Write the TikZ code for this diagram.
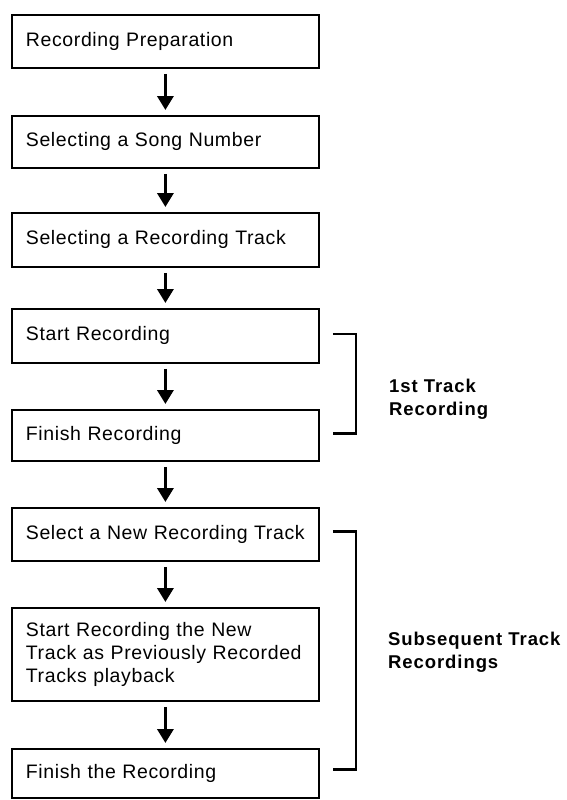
\documentclass[tikz,border=0pt]{standalone}
\usepackage{fontspec}
\setmainfont{Liberation Sans}
\newfontfamily\boxfont{Liberation Sans}[LetterSpace=3.2]
\newfontfamily\labfont{Liberation Sans}[LetterSpace=5]
\usetikzlibrary{arrows.meta}
\begin{document}
\begin{tikzpicture}[x=1pt,y=-1pt,
  stepbox/.style={draw=black, line width=1.8pt, anchor=north west,
    minimum width=307pt, text width=279pt, inner xsep=14pt, inner ysep=0pt,
    align=left, font=\boxfont\fontsize{19.5}{23}\selectfont},
  flow/.style={line width=3.4pt, -{Triangle[width=16pt,length=14pt]},
    shorten <=5pt, shorten >=5pt},
  brk/.style={line width=2.6pt},
  lab/.style={anchor=west, align=left, inner sep=0pt,
    font=\labfont\bfseries\fontsize{18.5}{23}\selectfont}]
\useasboundingbox[fill=white] (0,0) rectangle (567,800);

\node[stepbox, minimum height=53pt] (b1) at (11,14) {Recording Preparation};
\node[stepbox, minimum height=52pt] (b2) at (11,115) {Selecting a Song Number};
\node[stepbox, minimum height=54pt] (b3) at (11,212) {Selecting a Recording Track};
\node[stepbox, minimum height=54pt] (b4) at (11,308) {Start Recording};
\node[stepbox, minimum height=51pt] (b5) at (11,409) {Finish Recording};
\node[stepbox, minimum height=53pt] (b6) at (11,507) {\mbox{Select a New Recording Track}};
\node[stepbox, minimum height=93pt] (b7) at (11,607) {Start Recording the New\\Track as Previously Recorded\\Tracks playback};
\node[stepbox, minimum height=49pt] (b8) at (11,748) {Finish the Recording};

\draw[flow] (b1) -- (b2);
\draw[flow] (b2) -- (b3);
\draw[flow] (b3) -- (b4);
\draw[flow] (b4) -- (b5);
\draw[flow] (b5) -- (b6);
\draw[flow] (b6) -- (b7);
\draw[flow] (b7) -- (b8);

\coordinate (t1) at ([xshift=13pt,yshift=2pt]b4.east);
\coordinate (u1) at ([xshift=13pt,yshift=2pt]b5.east);
\draw[brk] (t1) -- ++(23,0) |- (u1);
\coordinate (t2) at ([xshift=13pt,yshift=3pt]b6.east);
\coordinate (u2) at ([xshift=13pt,yshift=4pt]b8.east);
\draw[brk] (t2) -- ++(23,0) |- (u2);

\node[lab] (l1) at (389,399) {1st Track\\Recording};
\node[lab] (l2) at (388,652) {Subsequent Track\\Recordings};
\end{tikzpicture}
\end{document}
